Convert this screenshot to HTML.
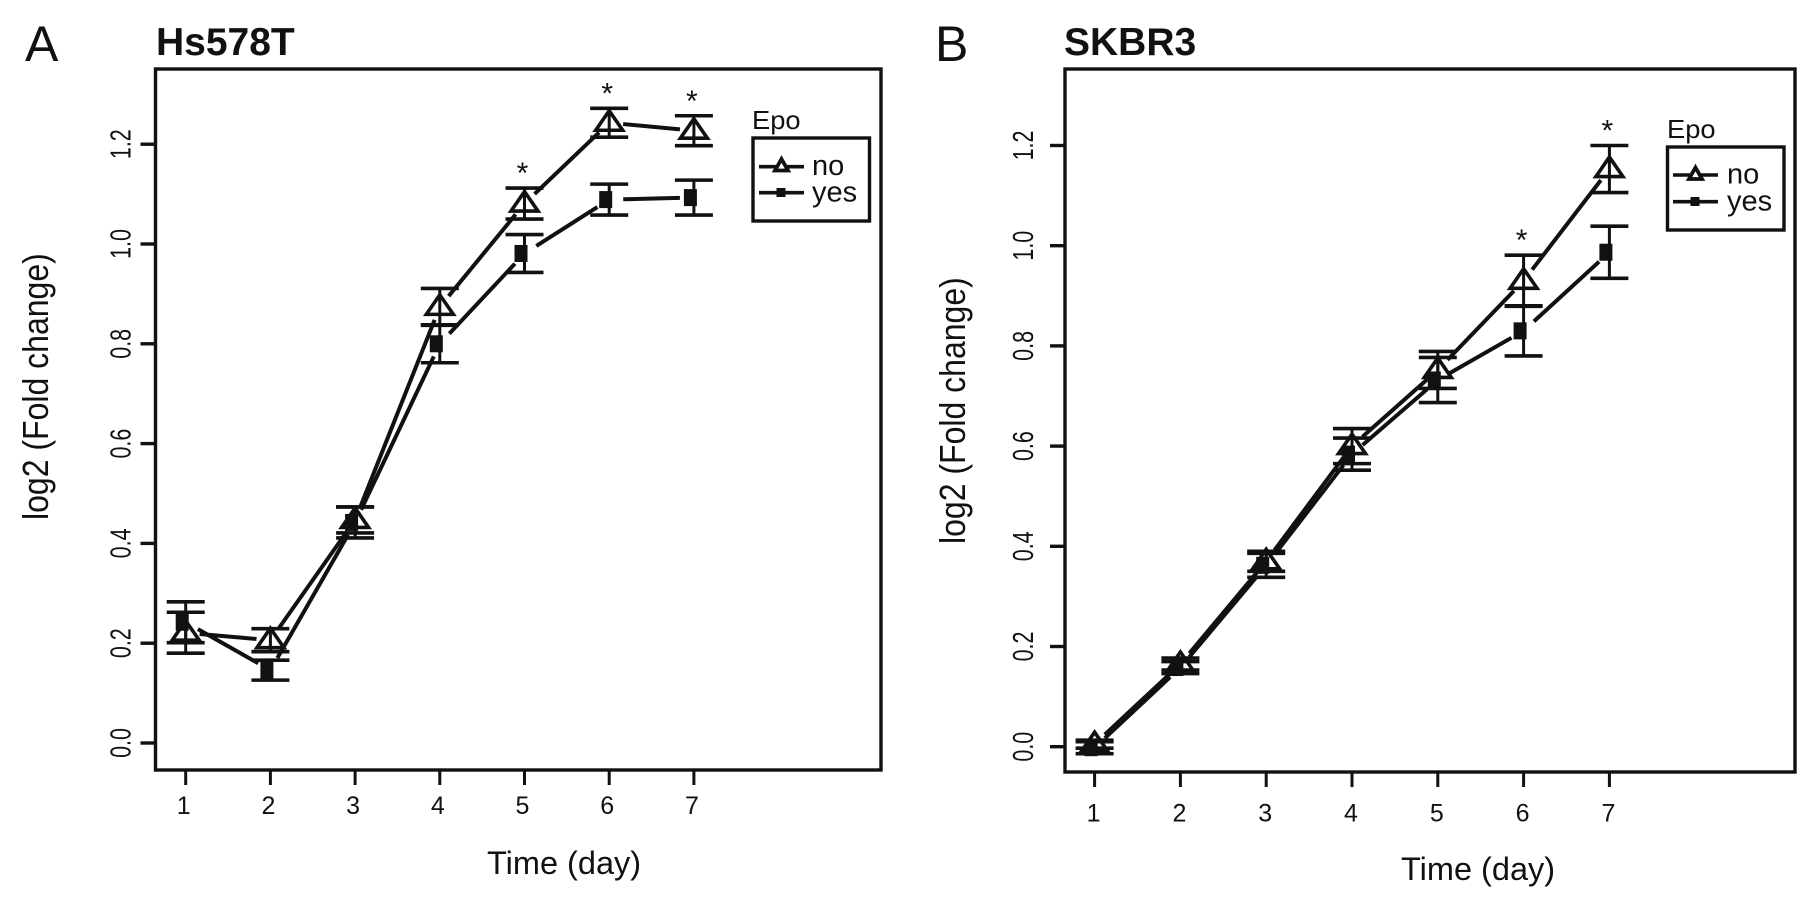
<!DOCTYPE html>
<html lang="en">
<head>
<meta charset="utf-8">
<title>Hs578T and SKBR3 growth curves</title>
<style>
html,body{margin:0;padding:0;background:#fff;width:1819px;height:912px;overflow:hidden}
svg{display:block}
text{font-family:"Liberation Sans",sans-serif;fill:#111}
</style>
</head>
<body>
<svg id="figure" width="1819" height="912" viewBox="0 0 1819 912" xmlns="http://www.w3.org/2000/svg">
  <rect width="1819" height="912" fill="#fff"/>
  <g id="panelA">
    <text x="25" y="61" font-size="50">A</text>
    <text x="156" y="55" font-size="39" font-weight="bold">Hs578T</text>
    <rect x="155.5" y="69" width="725.5" height="701" fill="none" stroke="#111" stroke-width="3.4"/>
    <text transform="translate(48,520) rotate(-90) scale(1,1.12)" font-size="32">log2 (Fold change)</text>
    <text x="487" y="874" font-size="32.5">Time (day)</text>
    <text transform="translate(752,129) scale(1.05,1)" font-size="26">Epo</text>
    <rect x="753" y="138" width="116.5" height="83" fill="#fff" stroke="#111" stroke-width="3.4"/>
    <line x1="759" y1="166.7" x2="804" y2="166.7" stroke="#111" stroke-width="3.6"/>
    <path d="M781.5 159 L788 170.5 H775 Z" fill="#fff" stroke="#111" stroke-width="3.8"/>
    <text x="812" y="175" font-size="29">no</text>
    <line x1="759" y1="192.7" x2="804" y2="192.7" stroke="#111" stroke-width="3.6"/>
    <rect x="776.5" y="188" width="9" height="9" fill="#111"/>
    <text x="812" y="201.7" font-size="29">yes</text>
  </g>
  <g id="panelB">
    <text x="935" y="61" font-size="50">B</text>
    <text x="1064" y="55" font-size="39" font-weight="bold">SKBR3</text>
    <rect x="1065" y="69" width="730" height="703" fill="none" stroke="#111" stroke-width="3.4"/>
    <text transform="translate(965,544) rotate(-90) scale(1,1.12)" font-size="32">log2 (Fold change)</text>
    <text x="1401" y="880" font-size="32.5">Time (day)</text>
    <text transform="translate(1667,138) scale(1.05,1)" font-size="26">Epo</text>
    <rect x="1667.5" y="147" width="116.5" height="83" fill="#fff" stroke="#111" stroke-width="3.4"/>
    <line x1="1673" y1="175" x2="1718" y2="175" stroke="#111" stroke-width="3.6"/>
    <path d="M1695.5 167.5 L1702 179 H1689 Z" fill="#fff" stroke="#111" stroke-width="3.8"/>
    <text x="1727" y="183.7" font-size="29">no</text>
    <line x1="1673" y1="201.7" x2="1718" y2="201.7" stroke="#111" stroke-width="3.6"/>
    <rect x="1690.5" y="197" width="9" height="9" fill="#111"/>
    <text x="1727" y="210.7" font-size="29">yes</text>
  </g>
</svg>
<script>
const days = [1, 2, 3, 4, 5, 6, 7];
const yTickLabels = ["0.0", "0.2", "0.4", "0.6", "0.8", "1.0", "1.2"];
const noMeanA = [0.221, 0.206, 0.447, 0.874, 1.081, 1.243, 1.227];
const noErrA = [0.041, 0.023, 0.026, 0.037, 0.031, 0.029, 0.030];
const yesMeanA = [0.242, 0.146, 0.442, 0.800, 0.981, 1.089, 1.093];
const yesErrA = [0.041, 0.020, 0.031, 0.038, 0.038, 0.031, 0.035];
const sigDaysA = [5, 6, 7];
const noMeanB = [0.005, 0.165, 0.370, 0.600, 0.752, 0.930, 1.153];
const noErrB = [0.008, 0.012, 0.020, 0.035, 0.037, 0.051, 0.047];
const yesMeanB = [-0.002, 0.158, 0.362, 0.584, 0.732, 0.830, 0.987];
const yesErrB = [0.012, 0.012, 0.024, 0.032, 0.045, 0.050, 0.052];
const sigDaysB = [6, 7];

const NS = 'http://www.w3.org/2000/svg';
const INK = '#111';
function mk(parent, tag, attrs) {
  const el = document.createElementNS(NS, tag);
  for (const k in attrs) el.setAttribute(k, attrs[k]);
  parent.appendChild(el);
  return el;
}
function xAxisA(d) { return 185.7 + 84.7 * (d - 1); }
function yAxisA(v) { return 743 - 499 * v; }
function xAxisB(d) { return 1094.6 + 85.8 * (d - 1); }
function yAxisB(v) { return 746.7 - 501 * v; }

function drawAxes(g, xf, yf, frameLeft, frameBottom, yLabelX, xLabelY, xLabelShift) {
  days.forEach(function (d) {
    const tick = mk(g, 'line', {x1: xf(d), x2: xf(d), y1: frameBottom, y2: frameBottom + 15, stroke: INK, 'stroke-width': 3});
    
    
    const label = mk(g, 'text', {x: xf(d) + xLabelShift, y: xLabelY, 'font-size': 25, 'text-anchor': 'middle'});
    label.textContent = String(d);
    
    
  });
  yTickLabels.forEach(function (t) {
    const v = parseFloat(t);
    const tick = mk(g, 'line', {x1: frameLeft - 15, x2: frameLeft, y1: yf(v), y2: yf(v), stroke: INK, 'stroke-width': 3.4});
    
    
    const label = mk(g, 'text', {transform: 'translate(' + yLabelX + ',' + yf(v) + ') rotate(-90) scale(1,1.32)', 'font-size': 21.5, 'text-anchor': 'middle'});
    label.textContent = t;
    
    
  });
}

function drawSeriesLine(g, xf, yf, means, gap) {
  for (let i = 0; i < days.length - 1; i++) {
    const x1 = xf(days[i]), y1 = yf(means[i]), x2 = xf(days[i + 1]), y2 = yf(means[i + 1]);
    const len = Math.hypot(x2 - x1, y2 - y1);
    if (len <= gap * 2) continue;
    const ux = (x2 - x1) / len, uy = (y2 - y1) / len;
    const seg = mk(g, 'line', {x1: x1 + ux * gap, y1: y1 + uy * gap, x2: x2 - ux * gap, y2: y2 - uy * gap, stroke: INK, 'stroke-width': 4});
    
    
  }
}

function drawErrorBars(g, xf, yf, means, errs) {
  days.forEach(function (d, i) {
    const x = xf(d), hi = yf(means[i] + errs[i]), lo = yf(means[i] - errs[i]);
    const stem = mk(g, 'line', {x1: x, x2: x, y1: hi, y2: lo, stroke: INK, 'stroke-width': 3});
    
    
    const top = mk(g, 'line', {x1: x - 19, x2: x + 19, y1: hi, y2: hi, stroke: INK, 'stroke-width': 3.6});
    
    
    const bottom = mk(g, 'line', {x1: x - 19, x2: x + 19, y1: lo, y2: lo, stroke: INK, 'stroke-width': 3.6});
    
    
  });
}

function drawTriangles(g, xf, yf, means) {
  days.forEach(function (d, i) {
    const x = xf(d), y = yf(means[i]);
    const tri = mk(g, 'path', {d: 'M' + x + ' ' + (y - 12) + ' L' + (x + 13.5) + ' ' + (y + 7.5) + ' H' + (x - 13.5) + ' Z', fill: 'none', stroke: INK, 'stroke-width': 3.6});
    
    
  });
}

function drawSquares(g, xf, yf, means) {
  days.forEach(function (d, i) {
    const x = xf(d) - 3.5, y = yf(means[i]);
    const sq = mk(g, 'rect', {x: x - 6.5, y: y - 8.5, width: 13, height: 17, fill: INK});
    
    
  });
}

function drawStars(g, xf, yf, sigDays, means, errs) {
  sigDays.forEach(function (d) {
    const i = days.indexOf(d);
    const star = mk(g, 'text', {x: xf(d) - 2, y: yf(means[i] + errs[i]) - 5, 'font-size': 30, 'text-anchor': 'middle'});
    star.textContent = '*';
    
    
  });
}

function drawPanel(g, xf, yf, noMean, noErr, yesMean, yesErr, sigDays, frameLeft, frameBottom, yLabelX, xLabelY, xLabelShift) {
  drawAxes(g, xf, yf, frameLeft, frameBottom, yLabelX, xLabelY, xLabelShift);
  drawSeriesLine(g, xf, yf, yesMean, 14);
  drawSeriesLine(g, xf, yf, noMean, 14);
  drawErrorBars(g, xf, yf, yesMean, yesErr);
  drawErrorBars(g, xf, yf, noMean, noErr);
  drawSquares(g, xf, yf, yesMean);
  drawTriangles(g, xf, yf, noMean);
  drawStars(g, xf, yf, sigDays, noMean, noErr);
}

drawPanel(document.getElementById('panelA'), xAxisA, yAxisA, noMeanA, noErrA, yesMeanA, yesErrA, sigDaysA, 155.5, 770, 130.6, 814, -2);
drawPanel(document.getElementById('panelB'), xAxisB, yAxisB, noMeanB, noErrB, yesMeanB, yesErrB, sigDaysB, 1065, 772, 1033, 821.7, -1);
</script>
</body>
</html>
